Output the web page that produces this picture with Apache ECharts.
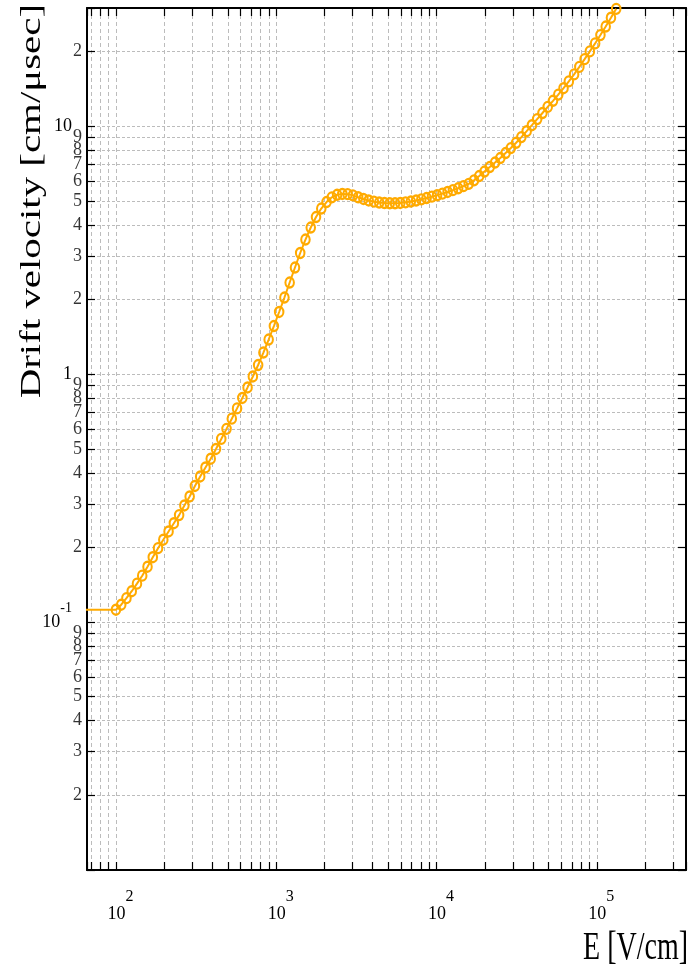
<!DOCTYPE html>
<html>
<head>
<meta charset="utf-8">
<script src="https://cdn.jsdelivr.net/npm/echarts@6/dist/echarts.min.js"></script>
<style>
html,body{margin:0;padding:0;background:#ffffff;}
#chart{width:695px;height:970px;}
</style>
</head>
<body>
<div id="chart"></div>
<script>
// ---- data ----
// Electric field E [V/cm]; the first point lies left of the visible range (flat low-field segment)
const fieldE = [50, 100, 107.9, 116.3, 125.5, 135.3, 145.9, 157.4, 169.8, 183.1, 197.5,
  213.0, 229.8, 247.9, 267.3, 288.4, 311.0, 335.5, 361.9, 390.3, 420.9,
  454.0, 489.7, 528.2, 569.7, 614.5, 662.5, 714.9, 771.1, 831.7, 897.1,
  966.9, 1043, 1125, 1213, 1309, 1411, 1522, 1642, 1771, 1910,
  2060, 2222, 2397, 2585, 2788, 3007, 3244, 3499, 3774, 4070,
  4390, 4735, 5107, 5509, 5942, 6409, 6912, 7456, 8042, 8674,
  9356, 10080, 10880, 11730, 12650, 13650, 14720, 15880, 17130, 18470,
  19920, 21490, 23180, 25000, 26970, 29090, 31370, 33840, 36500, 39370,
  42440, 45800, 49400, 53290, 57480, 62000, 66870, 72130, 77800, 83910,
  90450, 97600, 105300, 113600, 122500, 132100];
// Drift velocity [cm/us]
const driftV = [0.1122, 0.1122, 0.1175, 0.1249, 0.1332, 0.1429, 0.1539, 0.1673, 0.1827, 0.1987, 0.2149,
  0.2321, 0.2505, 0.2701, 0.2955, 0.3212, 0.3541, 0.3868, 0.4205, 0.4560, 0.4994,
  0.5481, 0.6018, 0.6615, 0.7277, 0.8020, 0.8842, 0.9789, 1.089, 1.223, 1.380,
  1.564, 1.782, 2.038, 2.343, 2.693, 3.082, 3.492, 3.905, 4.305, 4.658,
  4.947, 5.168, 5.294, 5.334, 5.324, 5.265, 5.173, 5.092, 5.021, 4.966,
  4.924, 4.902, 4.892, 4.892, 4.906, 4.934, 4.970, 5.017, 5.073, 5.134,
  5.202, 5.270, 5.349, 5.434, 5.525, 5.623, 5.734, 5.858, 6.052, 6.298,
  6.567, 6.848, 7.140, 7.444, 7.798, 8.168, 8.579, 9.046, 9.555, 10.10,
  10.69, 11.31, 11.97, 12.67, 13.42, 14.24, 15.17, 16.19, 17.36, 18.65,
  20.05, 21.59, 23.33, 25.26, 27.41, 29.77];

// axis ranges
const xRange = [66, 3.6e5];
const yRange = [0.01, 30];
// extra (mantissa) tick labels on the y axis
const yMinorLabelValues = [0.02, 0.03, 0.04, 0.05, 0.06, 0.07, 0.08, 0.09,
  0.2, 0.3, 0.4, 0.5, 0.6, 0.7, 0.8, 0.9,
  2, 3, 4, 5, 6, 7, 8, 9,
  20];
const xTitle = 'E [V/cm]';
const yTitle = 'Drift velocity [cm/\u03bcsec]';

// ---- styling ----
const SERIF = '"Liberation Serif", "Times New Roman", serif';
const LINE_COLOR = '#FFAA00';
const GRID_COLOR = '#bcbcbc';

function isPow10(v) {
  const e = Math.round(Math.log10(v));
  return Math.abs(v / Math.pow(10, e) - 1) < 1e-6 ? e : null;
}
function xLabel(v) {
  const e = isPow10(v);
  if (e === null) return '';
  return '{b|10}{s|' + e + '}';
}
function yLabel(v) {
  const e = isPow10(v);
  if (e === null || v <= yRange[0] * 1.0001) return '';
  if (e < 0) return '{b|10}{s|' + e + '}';
  return '{m|' + Math.pow(10, e) + '}';
}
function mantissa(v) {
  const e = Math.floor(Math.log10(v) + 1e-9);
  return String(Math.round(v / Math.pow(10, e)));
}

const tickStyle = {color: '#000', width: 1.2};
function axisBase(extra) {
  return Object.assign({
    type: 'log', logBase: 10,
    axisLine: {show: true, onZero: false, lineStyle: {color: '#000', width: 2}},
    axisTick: {show: true, inside: true, length: 8, lineStyle: tickStyle},
    minorTick: {show: true, splitNumber: 9, length: 8, lineStyle: tickStyle},
    splitLine: {show: false},
    minorSplitLine: {show: false},
    axisLabel: {show: false}
  }, extra);
}

const seriesData = fieldE.map(function (e, i) {
  if (e < xRange[0]) return {value: [e, driftV[i]], symbol: 'none'};
  return [e, driftV[i]];
});

const chart = echarts.init(document.getElementById('chart'), null, {renderer: 'canvas'});
chart.setOption({
  animation: false,
  backgroundColor: '#ffffff',
  textStyle: {fontFamily: SERIF},
  grid: {left: 87, right: 9, top: 8, bottom: 100, containLabel: false},
  xAxis: [
    axisBase({
      min: xRange[0], max: xRange[1], position: 'bottom',
      splitLine: {show: true, lineStyle: {color: GRID_COLOR, width: 1, type: [4, 3]}},
      minorSplitLine: {show: true, lineStyle: {color: GRID_COLOR, width: 1, type: [4, 3]}},
      axisLabel: {
        show: true, margin: 19, color: '#000', fontFamily: SERIF,
        formatter: xLabel,
        rich: {
          b: {fontSize: 18, lineHeight: 18, fontFamily: SERIF, color: '#000', verticalAlign: 'bottom', padding: [0, 0, 0, 9]},
          s: {fontSize: 16, lineHeight: 34, fontFamily: SERIF, color: '#000', verticalAlign: 'top', padding: [0, 0, 18, 0]}
        }
      }
    }),
    axisBase({min: xRange[0], max: xRange[1], position: 'top'})
  ],
  yAxis: [
    axisBase({
      min: yRange[0], max: yRange[1], position: 'left',
      splitLine: {show: true, lineStyle: {color: GRID_COLOR, width: 1, type: [3, 2]}},
      minorSplitLine: {show: true, lineStyle: {color: GRID_COLOR, width: 1, type: [3, 2]}},
      axisLabel: {
        show: true, margin: 15, color: '#000', fontFamily: SERIF,
        formatter: yLabel,
        rich: {
          b: {fontSize: 18, lineHeight: 18, fontFamily: SERIF, color: '#000', verticalAlign: 'bottom', padding: [0, 0, 11.5, 0]},
          s: {fontSize: 14, lineHeight: 41, fontFamily: SERIF, color: '#000', verticalAlign: 'top', padding: [0, 0, 27, 0]},
          m: {fontSize: 18, lineHeight: 18, fontFamily: SERIF, color: '#000'}
        }
      }
    }),
    axisBase({min: yRange[0], max: yRange[1], position: 'right'})
  ],
  series: [
    {
      type: 'line',
      xAxisIndex: 0, yAxisIndex: 0,
      data: seriesData,
      symbol: 'circle',
      symbolSize: [8.5, 10],
      showAllSymbol: true,
      clip: true,
      lineStyle: {color: LINE_COLOR, width: 2},
      itemStyle: {color: 'rgba(0,0,0,0)', borderColor: LINE_COLOR, borderWidth: 2.2},
      emphasis: {disabled: true},
      z: 5
    },
    {
      type: 'scatter',
      xAxisIndex: 0, yAxisIndex: 0,
      data: yMinorLabelValues.map(function (v) { return [xRange[0], v]; }),
      symbolSize: 0,
      clip: false,
      silent: true,
      itemStyle: {color: 'rgba(0,0,0,0)'},
      label: {
        show: true, position: 'left', distance: 5,
        fontSize: 18, fontFamily: SERIF, color: '#000',
        formatter: function (p) { return mantissa(p.value[1]); }
      },
      emphasis: {disabled: true},
      z: 6
    }
  ],
  graphic: [
    {
      type: 'text', x: 32, y: 4, rotation: Math.PI / 2, scaleX: 1.41,
      style: {text: yTitle, font: '29px ' + SERIF, fill: '#000', textAlign: 'right', textVerticalAlign: 'middle'}
    },
    {
      type: 'text', x: 688, y: 949, scaleY: 1.42,
      style: {text: xTitle, font: '28px ' + SERIF, fill: '#000', textAlign: 'right', textVerticalAlign: 'middle'}
    }
  ]
});
</script>
</body>
</html>
